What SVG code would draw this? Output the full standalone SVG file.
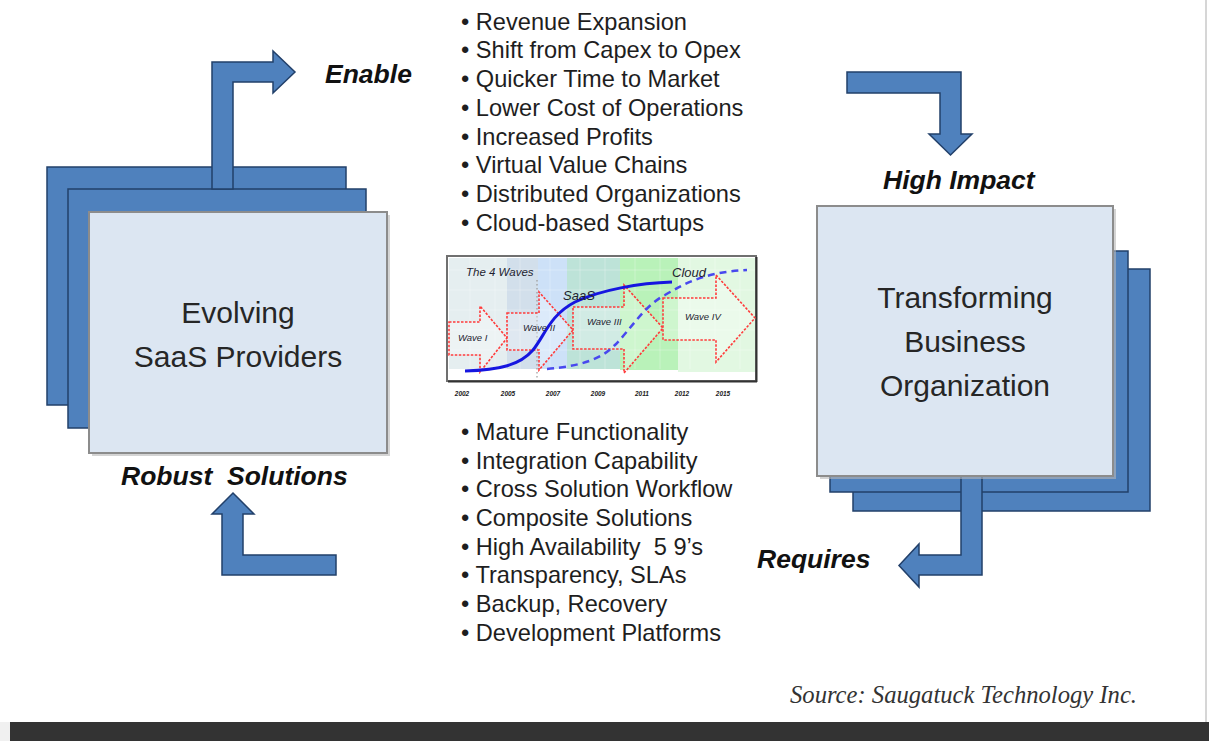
<svg xmlns="http://www.w3.org/2000/svg" width="1209" height="741" viewBox="0 0 1209 741">
<style>
.blue{fill:#4f81bd;stroke:#22406a;stroke-width:1.5}
.front{fill:#dce6f2;stroke:#8c8c8c;stroke-width:2}
.shadow{fill:#b8b8b8;opacity:0.6}
.boxtxt{font-family:"Liberation Sans",Arial,sans-serif;font-size:30px;fill:#262626;text-anchor:middle}
.lbl{font-family:"Liberation Sans",Arial,sans-serif;font-size:26.5px;font-weight:bold;font-style:italic;fill:#111}
.list{font-family:"Liberation Sans",Arial,sans-serif;font-size:23.6px;fill:#1e1e1e}
.wave{fill:#ffffff;fill-opacity:0.3;stroke:#ff3b3b;stroke-width:1.6;stroke-dasharray:2.5,1.5}
.ctxt{font-family:"Liberation Sans",Arial,sans-serif;font-style:italic;fill:#1e1e30}
.yr{font-family:"Liberation Sans",Arial,sans-serif;font-style:italic;font-weight:bold;font-size:6.5px;fill:#222;text-anchor:middle}
.grid{stroke:#ffffff;stroke-opacity:0.35;stroke-width:0.8}
</style>
<rect x="0" y="0" width="1209" height="741" fill="#ffffff"/>
<line x1="1206" y1="0" x2="1206" y2="722" stroke="#c8c8c8" stroke-width="1.5"/>

<g id="node-saas-providers">
  <rect class="blue" x="47" y="167" width="299" height="238"/>
  <rect class="blue" x="68" y="189" width="298" height="239"/>
  <rect class="shadow" x="92" y="215" width="298" height="241"/>
  <rect class="front" x="89" y="212" width="298" height="241"/>
  <text class="boxtxt" x="238" y="323">Evolving</text>
  <text class="boxtxt" x="238" y="367">SaaS Providers</text>
</g>

<g id="node-business-org">
  <rect class="blue" x="853" y="269" width="297" height="242"/>
  <rect class="blue" x="830" y="251" width="298" height="241"/>
</g>

<g id="connectors">
  <path id="arrow-enable" class="blue" d="M212,189 L212,62 L273,62 L273,51 L295,72 L273,93 L273,82 L233,82 L233,189 Z"/>
  <path id="arrow-high-impact" class="blue" d="M847,72 L961,72 L961,134 L972,134 L950.5,155 L929,134 L940,134 L940,93 L847,93 Z"/>
  <path id="arrow-requires" class="blue" d="M961,476 L982,476 L982,575 L919,575 L919,587 L899,565.5 L919,544 L919,555 L961,555 Z"/>
  <path id="arrow-robust" class="blue" d="M233,493 L254,514 L243,514 L243,555 L336,555 L336,575 L222,575 L222,514 L212,514 Z"/>
</g>

<g id="node-business-front">
  <rect class="shadow" x="820" y="209" width="296" height="270"/>
  <rect class="front" x="817" y="206" width="296" height="270"/>
  <text class="boxtxt" x="965" y="308">Transforming</text>
  <text class="boxtxt" x="965" y="352">Business</text>
  <text class="boxtxt" x="965" y="396">Organization</text>
</g>

<g id="labels">
  <text class="lbl" x="325" y="83">Enable</text>
  <text class="lbl" x="883" y="189">High Impact</text>
  <text class="lbl" x="757" y="568">Requires</text>
  <text class="lbl" x="121" y="485" xml:space="preserve">Robust  Solutions</text>
</g>

<g id="list-benefits" class="list">
  <text x="461" y="30">• Revenue Expansion</text>
  <text x="461" y="58">• Shift from Capex to Opex</text>
  <text x="461" y="87">• Quicker Time to Market</text>
  <text x="461" y="116">• Lower Cost of Operations</text>
  <text x="461" y="145">• Increased Profits</text>
  <text x="461" y="173">• Virtual Value Chains</text>
  <text x="461" y="202">• Distributed Organizations</text>
  <text x="461" y="231">• Cloud-based Startups</text>
</g>

<g id="list-requirements" class="list">
  <text x="461" y="440">• Mature Functionality</text>
  <text x="461" y="469">• Integration Capability</text>
  <text x="461" y="497">• Cross Solution Workflow</text>
  <text x="461" y="526">• Composite Solutions</text>
  <text x="461" y="555" xml:space="preserve">• High Availability  5 9’s</text>
  <text x="461" y="583">• Transparency, SLAs</text>
  <text x="461" y="612">• Backup, Recovery</text>
  <text x="461" y="641">• Development Platforms</text>
</g>

<g id="chart-four-waves">
  <rect x="447" y="256" width="309" height="125" fill="#ffffff" stroke="#707070" stroke-width="2"/>
  <line x1="448" y1="381.5" x2="757" y2="381.5" stroke="#333" stroke-width="2"/>
  <line x1="756.5" y1="257" x2="756.5" y2="382" stroke="#333" stroke-width="2"/>
  <rect x="449" y="258" width="58" height="111" fill="#e5eef0"/>
  <rect x="507" y="258" width="31" height="111" fill="#d2dfeb"/>
  <rect x="538" y="258" width="29" height="111" fill="#cde1f8"/>
  <rect x="567" y="258" width="53" height="111" fill="#bde3d8"/>
  <rect x="620" y="258" width="58" height="112" fill="#b9f2b9"/>
  <rect x="678" y="258" width="77" height="114" fill="#e2f8e2"/>
  <g class="grid">
    <line x1="449" y1="270" x2="755" y2="270"/>
    <line x1="449" y1="290" x2="755" y2="290"/>
    <line x1="449" y1="310" x2="755" y2="310"/>
    <line x1="449" y1="330" x2="755" y2="330"/>
    <line x1="449" y1="350" x2="755" y2="350"/>
    <line x1="470" y1="258" x2="470" y2="369"/>
    <line x1="495" y1="258" x2="495" y2="369"/>
    <line x1="520" y1="258" x2="520" y2="369"/>
    <line x1="550" y1="258" x2="550" y2="369"/>
    <line x1="580" y1="258" x2="580" y2="369"/>
    <line x1="605" y1="258" x2="605" y2="369"/>
    <line x1="635" y1="258" x2="635" y2="369"/>
    <line x1="660" y1="258" x2="660" y2="369"/>
    <line x1="690" y1="258" x2="690" y2="369"/>
    <line x1="715" y1="258" x2="715" y2="369"/>
    <line x1="740" y1="258" x2="740" y2="369"/>
  </g>
  <line x1="537" y1="280" x2="537" y2="378" stroke="#9a9a9a" stroke-width="1.2" stroke-dasharray="1.5,2.5"/>
  <path class="wave" d="M449,322 L480,322 L480,306 L507,338 L480,372 L480,355 L449,355 Z"/>
  <path class="wave" d="M507,313 L539,313 L539,292 L573,330 L539,370 L539,350 L507,350 Z"/>
  <path class="wave" d="M573,307 L624,307 L624,285 L663,328 L624,373 L624,349 L573,349 Z"/>
  <path class="wave" d="M663,298 L716,298 L716,275 L755,318 L716,362 L716,340 L663,340 Z"/>
  <path d="M465,371 C500,370 520,365 533,350 C545,335 550,315 575,302 C600,290 640,283 672,282" fill="none" stroke="#1616e0" stroke-width="3"/>
  <path d="M547,369 C580,366 600,360 615,345 C630,330 645,305 665,295 C690,280 710,272 747,270" fill="none" stroke="#4848ee" stroke-width="2.5" stroke-dasharray="7,5"/>
  <text class="ctxt" x="466" y="276" font-size="11.5">The 4 Waves</text>
  <text class="ctxt" x="563" y="300" font-size="13">SaaS</text>
  <text class="ctxt" x="672" y="277" font-size="13">Cloud</text>
  <text class="ctxt" x="458" y="341" font-size="9.5">Wave I</text>
  <text class="ctxt" x="523" y="331" font-size="9.5">Wave II</text>
  <text class="ctxt" x="587" y="325" font-size="9.5">Wave III</text>
  <text class="ctxt" x="685" y="320" font-size="9.5">Wave IV</text>
  <text class="yr" x="462" y="396">2002</text>
  <text class="yr" x="508" y="396">2005</text>
  <text class="yr" x="553" y="396">2007</text>
  <text class="yr" x="598" y="396">2009</text>
  <text class="yr" x="642" y="396">2011</text>
  <text class="yr" x="682" y="396">2012</text>
  <text class="yr" x="723" y="396">2015</text>
</g>

<text x="790" y="703" font-family="'Liberation Serif','Times New Roman',serif" font-style="italic" font-size="25" fill="#333" textLength="347" lengthAdjust="spacingAndGlyphs">Source: Saugatuck Technology Inc.</text>

<rect x="0" y="722" width="10" height="19" fill="#f0f0f0"/>
<rect x="10" y="722" width="1199" height="19" fill="#333333"/>
</svg>
